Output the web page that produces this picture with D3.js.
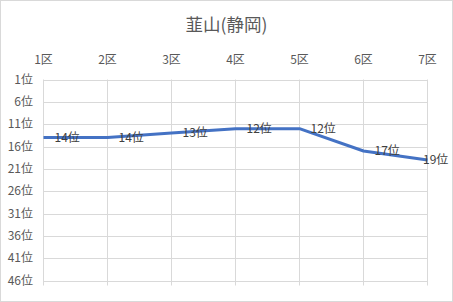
<!doctype html>
<html>
<head>
<meta charset="utf-8">
<style>
  body { margin: 0; background: #fff; }
  svg { display: block; font-family: "Noto Sans CJK JP", "Noto Sans", sans-serif; }
</style>
<script src="https://d3js.org/d3.v7.min.js"></script>
</head>
<body>
<script>
  var title = "韮山(静岡)";
  var sections = ["1区", "2区", "3区", "4区", "5区", "6区", "7区"];
  var ranks = [14, 14, 13, 12, 12, 17, 19];
  var rankTicks = [1, 6, 11, 16, 21, 26, 31, 36, 41, 46];

  var W = 453, H = 302;
  var plotL = 43.5, plotR = 427.5, plotT = 79.5, plotB = 280.5;

  var svg = d3.select("body").append("svg")
    .attr("width", W).attr("height", H);

  svg.append("rect")
    .attr("x", 0.5).attr("y", 0.5)
    .attr("width", W - 1).attr("height", H - 1)
    .attr("fill", "#fff").attr("stroke", "#d9d9d9");

  svg.append("text")
    .attr("x", W / 2).attr("y", 31)
    .attr("text-anchor", "middle")
    .attr("font-size", "17.5px")
    .attr("fill", "#595959")
    .text(title);

  var x = d3.scalePoint().domain(sections).range([plotL, plotR]);
  var y = d3.scaleLinear().domain([1, 46]).range([plotT, plotB]);

  // grid
  svg.append("g").selectAll("line")
    .data(rankTicks).enter().append("line")
    .attr("x1", plotL).attr("x2", plotR)
    .attr("y1", function(d) { return Math.round(y(d)) + 0.5; })
    .attr("y2", function(d) { return Math.round(y(d)) + 0.5; })
    .attr("stroke", "#d9d9d9").attr("stroke-width", 1);

  svg.append("g").selectAll("line")
    .data(sections).enter().append("line")
    .attr("x1", function(d) { return x(d); })
    .attr("x2", function(d) { return x(d); })
    .attr("y1", plotT).attr("y2", plotB + 5)
    .attr("stroke", "#d9d9d9").attr("stroke-width", 1);

  // top category labels
  svg.append("g").selectAll("text")
    .data(sections).enter().append("text")
    .attr("x", function(d) { return x(d); })
    .attr("y", 64)
    .attr("text-anchor", "middle")
    .attr("font-size", "12px")
    .attr("fill", "#595959")
    .text(function(d) { return d; });

  // rank labels
  svg.append("g").selectAll("text")
    .data(rankTicks).enter().append("text")
    .attr("x", 33)
    .attr("y", function(d) { return y(d); })
    .attr("dy", "0.35em")
    .attr("text-anchor", "end")
    .attr("font-size", "12px")
    .attr("fill", "#595959")
    .text(function(d) { return d + "位"; });

  var line = d3.line()
    .x(function(d, i) { return x(sections[i]); })
    .y(function(d) { return y(d); });

  svg.append("path")
    .datum(ranks)
    .attr("d", line)
    .attr("fill", "none")
    .attr("stroke", "#4472c4")
    .attr("stroke-width", 3)
    .attr("stroke-linejoin", "round");

  svg.append("g").selectAll("text")
    .data(ranks).enter().append("text")
    .attr("x", function(d, i) { return Math.min(x(sections[i]) + 11, W - 30); })
    .attr("y", function(d) { return y(d); })
    .attr("dy", "0.35em")
    .attr("font-size", "12px")
    .attr("fill", "#404040")
    .text(function(d) { return d + "位"; });
</script>
</body>
</html>
